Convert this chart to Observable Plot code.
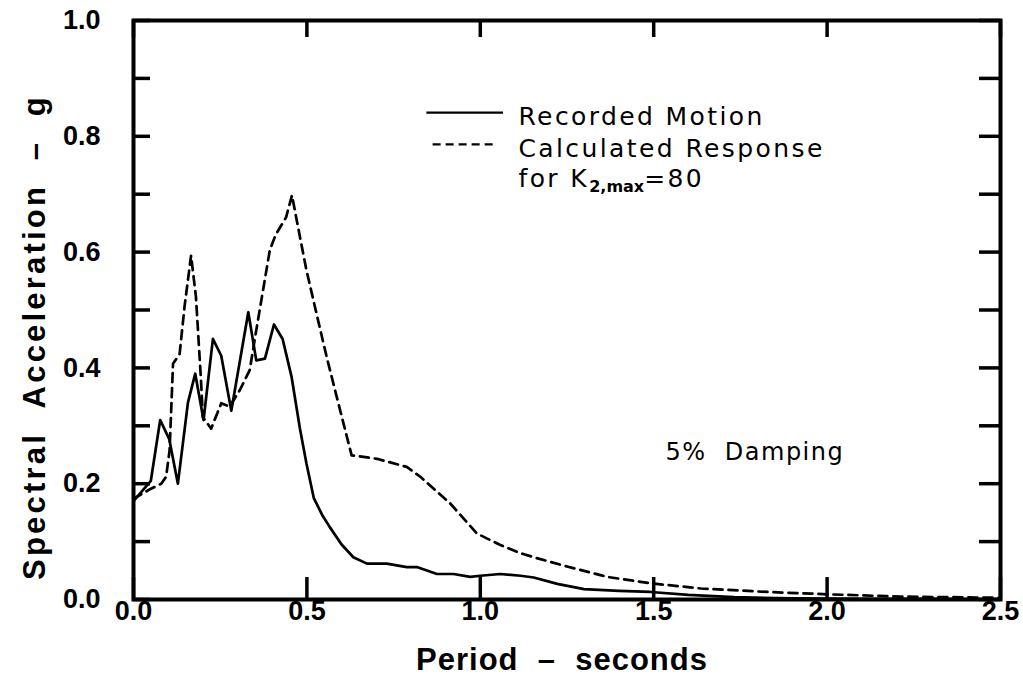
<!DOCTYPE html>
<html><head><meta charset="utf-8">
<script src="https://cdn.jsdelivr.net/npm/d3@7"></script>
<script src="https://cdn.jsdelivr.net/npm/@observablehq/plot@0.6"></script>
<style>body{margin:0;background:#fff}</style>
</head><body><div id="chart"></div>
<script>
// ---- data ----
const xTicks = [0, 0.5, 1.0, 1.5, 2.0, 2.5];
const yTicks = [0, 0.1, 0.2, 0.3, 0.4, 0.5, 0.6, 0.7, 0.8, 0.9, 1.0];
const yLabelTicks = [0, 0.2, 0.4, 0.6, 0.8, 1.0];

const recordedPeriod = [0, 0.05, 0.077, 0.103, 0.128, 0.157, 0.178, 0.202, 0.229, 0.253, 0.282, 0.331, 0.354, 0.379, 0.405, 0.43, 0.456, 0.48, 0.499, 0.52, 0.545, 0.566, 0.6, 0.634, 0.673, 0.73, 0.788, 0.817, 0.875, 0.923, 0.971, 1.0, 1.058, 1.116, 1.154, 1.222, 1.299, 1.4, 1.491, 1.6, 1.732, 1.9, 2.1, 2.3, 2.5];
const recordedSa     = [0.17, 0.205, 0.31, 0.277, 0.2, 0.34, 0.39, 0.31, 0.45, 0.421, 0.326, 0.496, 0.413, 0.416, 0.475, 0.45, 0.384, 0.295, 0.234, 0.175, 0.145, 0.125, 0.095, 0.073, 0.062, 0.062, 0.056, 0.056, 0.044, 0.044, 0.039, 0.041, 0.044, 0.041, 0.038, 0.027, 0.018, 0.015, 0.013, 0.008, 0.004, 0.002, 0.001, 0.001, 0.0];

const calcPeriod = [0, 0.046, 0.08, 0.094, 0.104, 0.114, 0.133, 0.147, 0.166, 0.18, 0.194, 0.2, 0.224, 0.253, 0.277, 0.306, 0.335, 0.354, 0.393, 0.41, 0.44, 0.457, 0.48, 0.499, 0.528, 0.557, 0.586, 0.629, 0.702, 0.788, 0.827, 0.913, 0.99, 1.058, 1.116, 1.154, 1.25, 1.366, 1.491, 1.636, 1.829, 2.0, 2.21, 2.5];
const calcSa     = [0.174, 0.19, 0.2, 0.212, 0.257, 0.407, 0.424, 0.505, 0.594, 0.523, 0.385, 0.315, 0.295, 0.339, 0.333, 0.361, 0.396, 0.465, 0.603, 0.63, 0.66, 0.698, 0.626, 0.568, 0.493, 0.419, 0.35, 0.249, 0.243, 0.229, 0.212, 0.166, 0.114, 0.094, 0.08, 0.073, 0.057, 0.039, 0.028, 0.019, 0.013, 0.009, 0.005, 0.003];

const seriesNames = ["Recorded Motion", "Calculated Response", "for K2,max=80"];
const annotation = "5%\u00a0\u00a0Damping";
const xTitle = "Period\u00a0\u00a0\u2013\u00a0\u00a0seconds";
const yTitle = "Spectral\u00a0\u00a0Acceleration\u00a0\u00a0\u2013\u00a0\u00a0g";

// ---- build ----
const recorded = recordedPeriod.map((p, i) => ({period: p, sa: recordedSa[i]}));
const calculated = calcPeriod.map((p, i) => ({period: p, sa: calcSa[i]}));

const W = 1023, H = 689, mL = 133, mR = 23, mT = 20, mB = 90;
const plotW = W - mL - mR, plotH = H - mT - mB;
const font = "'Liberation Sans', Arial, sans-serif";
const legendFont = "'DejaVu Sans', Verdana, sans-serif";
const tickW = 3.5;

const chart = Plot.plot({
  width: W, height: H,
  marginLeft: mL, marginRight: mR, marginTop: mT, marginBottom: mB,
  x: {domain: [0, 2.5]},
  y: {domain: [0, 1]},
  style: {fontFamily: font, background: "#fff", color: "#000"},
  marks: [
    // inward ticks on all four sides
    Plot.ruleY(yTicks, {stroke: "#000", strokeWidth: tickW, insetRight: plotW - 17}),
    Plot.ruleY(yTicks, {stroke: "#000", strokeWidth: tickW, insetLeft: plotW - 21}),
    Plot.ruleX(xTicks, {stroke: "#000", strokeWidth: tickW, insetTop: plotH - 22}),
    Plot.ruleX(xTicks, {stroke: "#000", strokeWidth: tickW, insetBottom: plotH - 17}),
    Plot.frame({stroke: "#000", strokeWidth: 4}),
    // tick labels
    Plot.axisY({ticks: yLabelTicks, tickSize: 0, tickPadding: 33, tickFormat: d3.format(".1f"),
      fontSize: 27, fontWeight: "bold", label: null}),
    Plot.axisX({ticks: xTicks, tickSize: 0, tickPadding: 1, tickFormat: d3.format(".1f"),
      fontSize: 27, fontWeight: "bold", label: null}),
    // axis titles
    Plot.text([yTitle], {text: d => d, frameAnchor: "left", textAnchor: "middle", dx: -98, dy: 27, rotate: -90,
      fontSize: 31, fontWeight: "bold", fill: "#000"}),
    Plot.text([xTitle], {text: d => d, frameAnchor: "bottom", textAnchor: "middle", dx: -5, dy: 61, lineAnchor: "middle",
      fontSize: 31, fontWeight: "bold", fill: "#000"}),
    // data
    Plot.line(recorded, {x: "period", y: "sa", stroke: "#000", strokeWidth: 2.7, curve: "linear"}),
    Plot.line(calculated, {x: "period", y: "sa", stroke: "#000", strokeWidth: 2.7, strokeDasharray: "9,6"}),
    // legend
    Plot.ruleY([0.841], {x1: 0.846, x2: 1.067, stroke: "#000", strokeWidth: 2.2}),
    Plot.ruleY([0.786], {x1: 0.864, x2: 1.049, stroke: "#000", strokeWidth: 2.2, strokeDasharray: "8,5"}),
    Plot.text(seriesNames, {x: () => 1.11, y: (d, i) => [0.819, 0.765, 0.712][i], text: d => d,
      textAnchor: "start", lineAnchor: "bottom", fontSize: 25, fontFamily: legendFont, fill: "#000"}),
    Plot.text([annotation], {x: () => 1.534, y: () => 0.241, text: d => d,
      textAnchor: "start", lineAnchor: "bottom", fontSize: 24, fontFamily: legendFont, fill: "#000"})
  ]
});

// letter spacing and subscript
d3.select(chart).selectAll("text").each(function () {
  const t = this.textContent;
  if (seriesNames.includes(t)) this.setAttribute("letter-spacing", "2.4");
  if (t === annotation) this.setAttribute("letter-spacing", "1.5");
  if (t === xTitle) this.setAttribute("letter-spacing", "1");
  if (t === yTitle) this.setAttribute("letter-spacing", "3.2");
  if (t === "for K2,max=80") {
    this.textContent = "";
    const s = d3.select(this);
    s.append("tspan").text("for K");
    s.append("tspan").attr("font-size", 16).attr("font-weight", "bold").attr("dy", 5).attr("letter-spacing", "0").text("2,max");
    s.append("tspan").attr("dy", -5).text("=80");
  }
});
document.getElementById("chart").appendChild(chart);
</script>
</body></html>
